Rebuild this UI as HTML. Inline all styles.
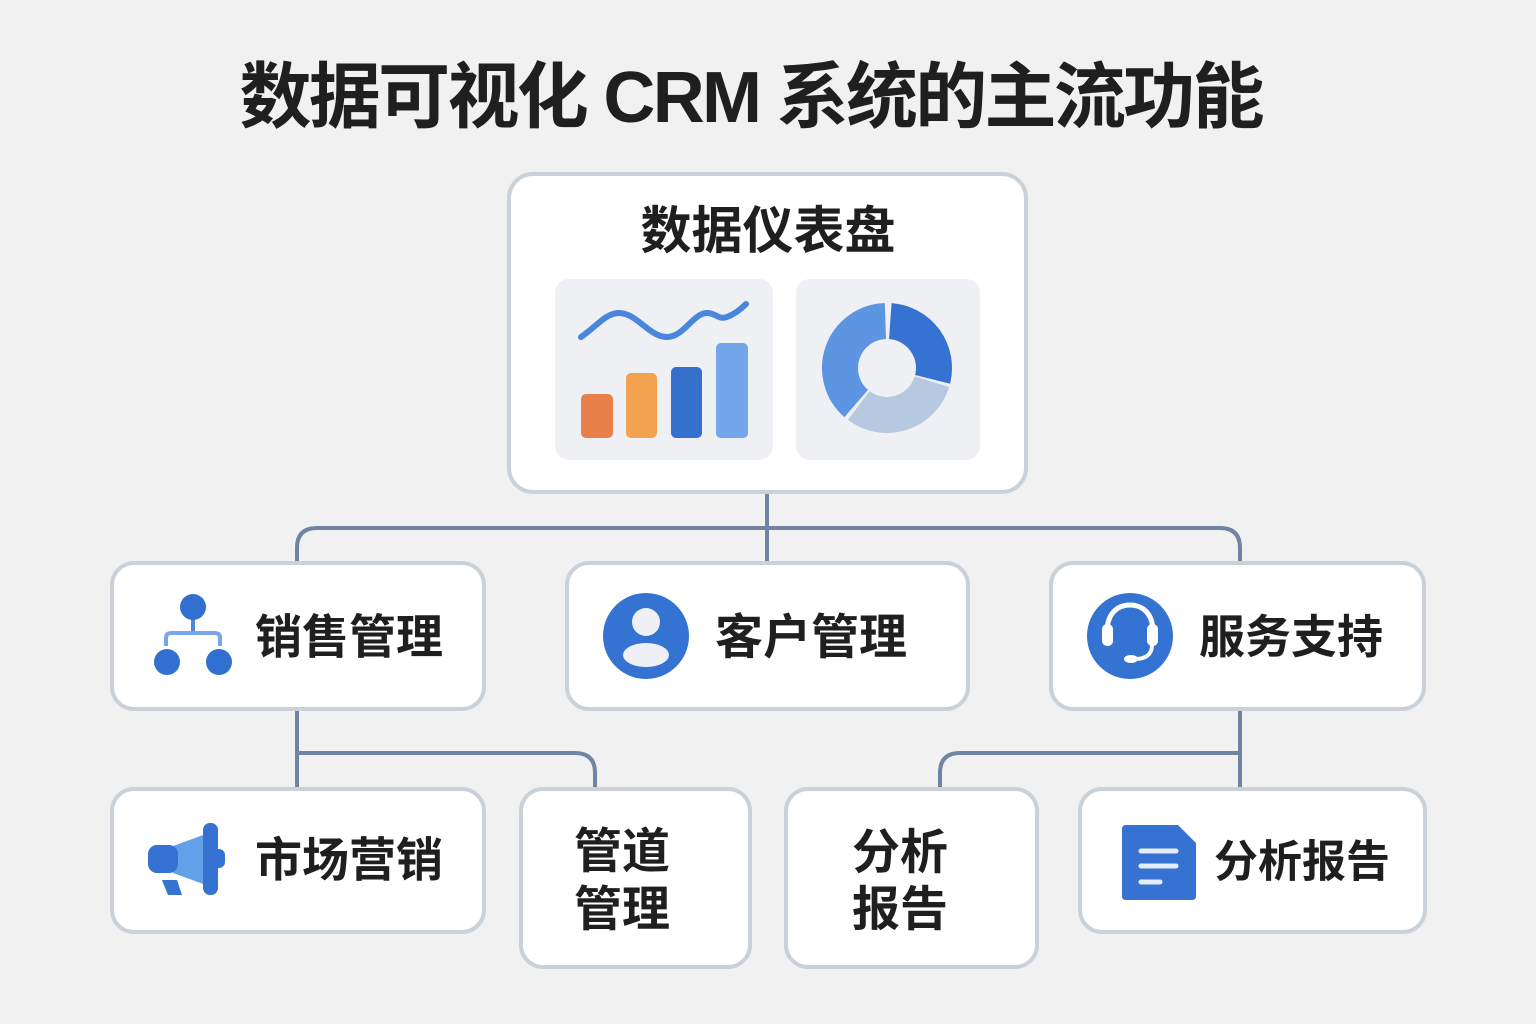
<!DOCTYPE html>
<html><head><meta charset="utf-8"><style>
html,body{margin:0;padding:0;background:#f1f1f2;}
svg{display:block;}
text{font-family:"Liberation Sans","Noto Sans CJK SC",sans-serif;font-weight:bold;fill:#1f1f1f;}
</style></head><body>
<svg width="1536" height="1024" viewBox="0 0 1536 1024" xmlns="http://www.w3.org/2000/svg">
<rect x="0" y="0" width="1536" height="1024" fill="#f1f1f2"/>
<!-- Title -->
<text x="752" y="98" font-size="72" text-anchor="middle" dominant-baseline="central" textLength="1025" lengthAdjust="spacing">数据可视化 CRM 系统的主流功能</text>

<!-- connectors -->
<g fill="none" stroke="#6f84a0" stroke-width="4">
<path d="M767,492 V562"/>
<path d="M297,562 V548 Q297,528 317,528 H1220 Q1240,528 1240,548 V562"/>
<path d="M297,708 V790"/>
<path d="M297,753 H575 Q595,753 595,773 V790"/>
<path d="M1240,708 V790"/>
<path d="M1240,753 H960 Q940,753 940,773 V790"/>
</g>

<!-- cards -->
<g fill="#ffffff" stroke="#cbd1d8" stroke-width="4">
<rect x="509" y="174" width="517" height="318" rx="24"/>
<rect x="112" y="563" width="372" height="146" rx="22"/>
<rect x="567" y="563" width="401" height="146" rx="22"/>
<rect x="1051" y="563" width="373" height="146" rx="22"/>
<rect x="112" y="789" width="372" height="143" rx="22"/>
<rect x="521" y="789" width="229" height="178" rx="22"/>
<rect x="786" y="789" width="251" height="178" rx="22"/>
<rect x="1080" y="789" width="345" height="143" rx="22"/>
</g>

<!-- dashboard -->
<text x="768" y="231" font-size="51" text-anchor="middle" dominant-baseline="central">数据仪表盘</text>
<rect x="555" y="279" width="218" height="181" rx="14" fill="#eef0f3"/>
<rect x="796" y="279" width="184" height="181" rx="14" fill="#eef0f3"/>
<path d="M581,337 C597,326 606,313 619,313 C637,313 649,337 667,337 C684,337 693,313 707,313 C716,313 718,320 727,317 C735,314 741,309 746,304" fill="none" stroke="#4a86dc" stroke-width="6" stroke-linecap="round"/>
<rect x="581" y="394" width="32" height="44" rx="5" fill="#e8804a"/>
<rect x="626" y="373" width="31" height="65" rx="5" fill="#f2a24e"/>
<rect x="671" y="367" width="31" height="71" rx="5" fill="#3570cc"/>
<rect x="716" y="343" width="32" height="95" rx="5" fill="#72a5ea"/>
<g fill="none" stroke-width="36">
<path d="M890.3,321.1 A47,47 0 0 1 932.6,379.4" stroke="#3572d2"/>
<path d="M931.9,381.7 A47,47 0 0 1 858.7,405.5" stroke="#b7c9e0"/>
<path d="M856.2,403.5 A47,47 0 0 1 885.4,321.0" stroke="#5e95e3"/>
</g>

<!-- sales icon -->
<line x1="193" y1="615" x2="193" y2="634" stroke="#4f86dc" stroke-width="4"/>
<path d="M166,646 V638 Q166,633 171,633 H215 Q220,633 220,638 V646" fill="none" stroke="#78a6ea" stroke-width="4"/>
<circle cx="193" cy="607" r="13" fill="#3170d0"/>
<circle cx="167" cy="662" r="13" fill="#3170d0"/>
<circle cx="219" cy="662" r="13" fill="#3170d0"/>
<text x="349" y="637" font-size="47" text-anchor="middle" dominant-baseline="central">销售管理</text>

<!-- customer icon -->
<circle cx="646" cy="636" r="43" fill="#3573d2"/>
<circle cx="646" cy="622" r="14" fill="#eef0f5"/>
<ellipse cx="646" cy="655" rx="23" ry="12" fill="#eef0f5"/>
<text x="811" y="638" font-size="48" text-anchor="middle" dominant-baseline="central">客户管理</text>

<!-- headset icon -->
<circle cx="1130" cy="636" r="43" fill="#3573d2"/>
<path d="M1107,632 C1107,614 1117,605 1130,605 C1143,605 1153,614 1153,632" fill="none" stroke="#ffffff" stroke-width="5"/>
<rect x="1102" y="624" width="11" height="22" rx="5" fill="#ffffff"/>
<rect x="1147" y="624" width="11" height="22" rx="5" fill="#ffffff"/>
<path d="M1152,645 C1152,655 1145,659 1135,659" fill="none" stroke="#ffffff" stroke-width="4"/>
<ellipse cx="1131" cy="659" rx="7" ry="4" fill="#ffffff"/>
<text x="1291" y="637" font-size="46" text-anchor="middle" dominant-baseline="central">服务支持</text>

<!-- megaphone icon -->
<path d="M173,846 L206,834 L206,885 L173,873 Z" fill="#62a0ea"/>
<rect x="148" y="845" width="30" height="28" rx="9" fill="#3572d2"/>
<path d="M162,880 L177,880 L182,895 L168,895 Z" fill="#3572d2"/>
<rect x="203" y="823" width="15" height="72" rx="7" fill="#3572d2"/>
<rect x="213" y="849" width="12" height="19" rx="6" fill="#3572d2"/>
<text x="349" y="860" font-size="47" text-anchor="middle" dominant-baseline="central">市场营销</text>

<!-- pipeline -->
<text x="622" y="852" font-size="48" text-anchor="middle" dominant-baseline="central">管道</text>
<text x="622" y="910" font-size="48" text-anchor="middle" dominant-baseline="central">管理</text>

<!-- analysis 2-line -->
<text x="900" y="853" font-size="48" text-anchor="middle" dominant-baseline="central">分析</text>
<text x="900" y="910" font-size="48" text-anchor="middle" dominant-baseline="central">报告</text>

<!-- document icon -->
<path d="M1122,829 Q1122,825 1126,825 H1178 L1196,843 V896 Q1196,900 1192,900 H1126 Q1122,900 1122,896 Z" fill="#3572d2"/>
<g stroke="#e6edf8" stroke-width="5" stroke-linecap="round">
<line x1="1141" y1="851" x2="1176" y2="851"/>
<line x1="1141" y1="866" x2="1176" y2="866"/>
<line x1="1141" y1="882" x2="1160" y2="882"/>
</g>
<text x="1302" y="862" font-size="44" text-anchor="middle" dominant-baseline="central">分析报告</text>
</svg>
</body></html>
